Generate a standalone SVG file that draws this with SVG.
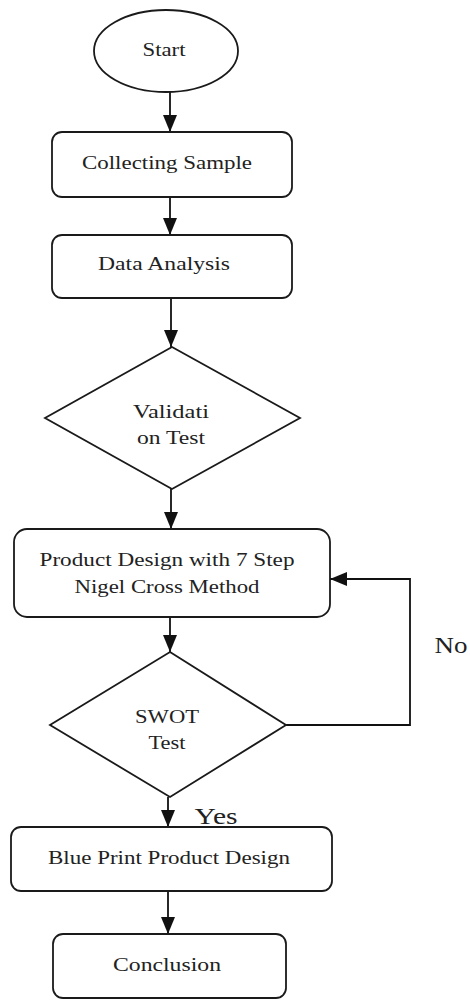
<svg xmlns="http://www.w3.org/2000/svg" width="470" height="1000" viewBox="0 0 470 1000">
  <style>
    .shape { fill: #fff; stroke: #1a1a1a; stroke-width: 1.8; }
    .lbl { font-family: "Liberation Serif", "Times New Roman", serif; font-size: 19px; fill: #222; text-anchor: middle; }
    .big { font-size: 23px; }
    .wire { fill: none; stroke: #111; stroke-width: 1.8; }
  </style>
  <defs>
    <marker id="arrow" viewBox="0 0 17 14" refX="17" refY="7" markerWidth="17" markerHeight="14" markerUnits="userSpaceOnUse" orient="auto">
      <path d="M0,0 L17,7 L0,14 z" fill="#111"/>
    </marker>
  </defs>
  <rect width="470" height="1000" fill="#fff"/>

  <g id="connectors">
    <path class="wire" d="M170,92 V132" marker-end="url(#arrow)"/>
    <path class="wire" d="M170,197 V235" marker-end="url(#arrow)"/>
    <path class="wire" d="M171,298 V347" marker-end="url(#arrow)"/>
    <path class="wire" d="M171,489 V529" marker-end="url(#arrow)"/>
    <path class="wire" d="M170,617 V652" marker-end="url(#arrow)"/>
    <path class="wire" d="M168,797 V827" marker-end="url(#arrow)"/>
    <path class="wire" d="M168,891 V934" marker-end="url(#arrow)"/>
    <path class="wire" d="M286,725 H410 V579 H330" marker-end="url(#arrow)"/>
    <text class="lbl big" x="216" y="824" textLength="43" lengthAdjust="spacingAndGlyphs">Yes</text>
    <text class="lbl big" x="451" y="653" textLength="33" lengthAdjust="spacingAndGlyphs">No</text>
  </g>

  <g id="start">
    <ellipse class="shape" cx="166" cy="51" rx="72" ry="41"/>
    <text class="lbl" x="164" y="56" textLength="43" lengthAdjust="spacingAndGlyphs">Start</text>
  </g>

  <g id="collecting-sample">
    <rect class="shape" x="52" y="132" width="240" height="65" rx="10"/>
    <text class="lbl" x="167" y="169" textLength="170" lengthAdjust="spacingAndGlyphs">Collecting Sample</text>
  </g>

  <g id="data-analysis">
    <rect class="shape" x="52" y="235" width="240" height="63" rx="10"/>
    <text class="lbl" x="164" y="270" textLength="132" lengthAdjust="spacingAndGlyphs">Data Analysis</text>
  </g>

  <g id="validation-test">
    <polygon class="shape" points="172,347 300,418 172,489 45,418"/>
    <text class="lbl" x="171" y="418" textLength="76" lengthAdjust="spacingAndGlyphs">Validati</text>
    <text class="lbl" x="171" y="444" textLength="68" lengthAdjust="spacingAndGlyphs">on Test</text>
  </g>

  <g id="product-design">
    <rect class="shape" x="14" y="529" width="316" height="88" rx="13"/>
    <text class="lbl" x="167" y="566" textLength="255" lengthAdjust="spacingAndGlyphs">Product Design with 7 Step</text>
    <text class="lbl" x="167" y="593" textLength="185" lengthAdjust="spacingAndGlyphs">Nigel Cross Method</text>
  </g>

  <g id="swot-test">
    <polygon class="shape" points="170,652 286,725 170,797 50,725"/>
    <text class="lbl" x="167" y="723" textLength="64" lengthAdjust="spacingAndGlyphs">SWOT</text>
    <text class="lbl" x="167" y="749" textLength="37" lengthAdjust="spacingAndGlyphs">Test</text>
  </g>

  <g id="blue-print">
    <rect class="shape" x="11" y="827" width="321" height="64" rx="10"/>
    <text class="lbl" x="169" y="864" textLength="242" lengthAdjust="spacingAndGlyphs">Blue Print Product Design</text>
  </g>

  <g id="conclusion">
    <rect class="shape" x="53" y="934" width="233" height="64" rx="10"/>
    <text class="lbl" x="167" y="971" textLength="108" lengthAdjust="spacingAndGlyphs">Conclusion</text>
  </g>
</svg>
